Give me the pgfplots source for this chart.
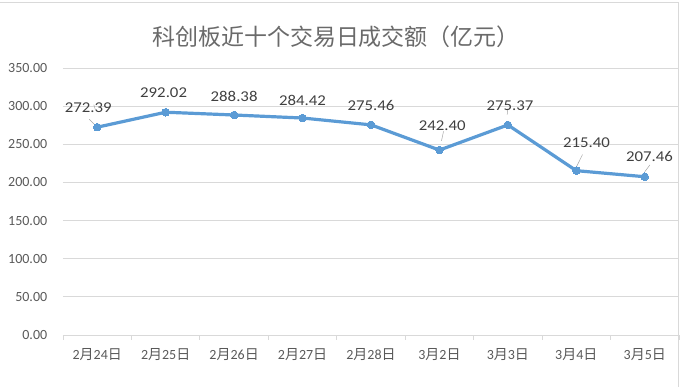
\documentclass[border=0pt]{standalone}
\usepackage{fontspec}
\setmainfont{Carlito}
\newfontfamily\cjk{Noto Sans CJK SC}
\newfontfamily\lblfont[FakeStretch=1.12]{Carlito}
\usepackage{pgfplots}
\pgfplotsset{compat=1.18}
\definecolor{lineblue}{HTML}{5B9BD5}
\definecolor{txtgray}{HTML}{595959}
\definecolor{titlegray}{HTML}{6A6A6A}
\definecolor{lblgray}{HTML}{404040}
\definecolor{gridgray}{HTML}{D9D9D9}
\begin{document}
\begin{tikzpicture}[x=1pt,y=1pt]
\path[use as bounding box] (0,0) rectangle (681,387);
\draw[gridgray, line width=0.8pt] (-2,385) -- (678,385) -- (678,-2);
\node[text=titlegray, font=\fontsize{23}{27}\selectfont\cjk] at (336,350) {科创板近十个交易日成交额（亿元）};
\begin{axis}[
  at={(63pt,52pt)}, anchor=south west,
  scale only axis, width=616pt, height=267pt,
  xmin=-0.5, xmax=8.5, ymin=0, ymax=350,
  ytick={0,50,...,350},
  yticklabel style={/pgf/number format/fixed, /pgf/number format/fixed zerofill, /pgf/number format/precision=2, /pgf/number format/assume math mode=true, font=\fontsize{14}{16}\selectfont, text=txtgray, xshift=-8pt},
  xtick={0,...,8},
  xticklabels={2{\cjk 月}24{\cjk 日},2{\cjk 月}25{\cjk 日},2{\cjk 月}26{\cjk 日},2{\cjk 月}27{\cjk 日},2{\cjk 月}28{\cjk 日},3{\cjk 月}2{\cjk 日},3{\cjk 月}3{\cjk 日},3{\cjk 月}4{\cjk 日},3{\cjk 月}5{\cjk 日}},
  xticklabel style={font=\fontsize{14}{16}\selectfont, text=txtgray, yshift=-6pt},
  major x tick style={draw=none},
  minor xtick={-0.5,0.5,...,8.5},
  minor x tick style={gridgray, line width=0.8pt},
  minor tick length=5pt,
  tick align=outside, xtick pos=bottom, ytick pos=left,
  major y tick style={draw=none},
  ymajorgrids, grid style={gridgray, line width=0.8pt},
  axis x line*=bottom, axis y line*=left,
  x axis line style={gridgray, line width=0.8pt, -},
  y axis line style={draw=none},
  clip=false,
]
\addplot[lineblue, line width=3.2pt, mark=*, mark size=3.8pt, mark options={fill=lineblue, draw=lineblue, line width=0pt}]
coordinates {(0,272.39) (1,292.02) (2,288.38) (3,284.42) (4,275.46) (5,242.40) (6,275.37) (7,215.40) (8,207.46)};
% leader lines
\addplot[gray!70, line width=0.5pt, quiver={u=\thisrow{u}, v=\thisrow{v}}, -]
table {
x y u v
-0.044 276.3 -0.073 6.5
-0.03 296.0 -0.02 6.0
5.03 254.5 0.03 12.5
5.99 289.0 0.01 8.0
7.0 220.0 0.09 16.5
8.0 214.0 0.075 9.0
};
\addplot[only marks, mark=none, nodes near coords, point meta=explicit symbolic,
  every node near coord/.append style={anchor=center, text=lblgray, font=\fontsize{15}{17}\lblfont, inner sep=0pt}]
table[meta=lab] {
x y lab
-0.13 297.5 272.39
0.97 318.2 292.02
2.0 313.3 288.38
3.0 308.0 284.42
4.0 300.5 275.46
5.04 273.9 242.40
6.03 300.3 275.37
7.15 252.1 215.40
8.07 233.7 207.46
};
\end{axis}
\end{tikzpicture}
\end{document}
